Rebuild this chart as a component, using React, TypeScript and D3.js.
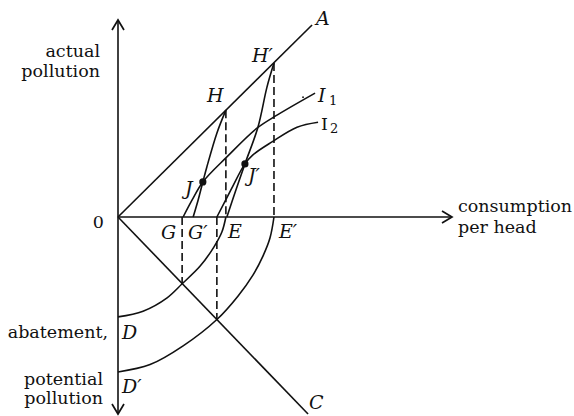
import React from "react";
import * as d3 from "d3";

// values in diagram units (consumption per head on x, pollution on y)
const lineA: [number, number][] = [[0, 0], [5.81, 5.75]];
const lineC: [number, number][] = [[0, 0], [5.69, -5.9]];

const curveHG: [number, number][] = [[3.23, 3.2], [2.96, 2.51], [2.66, 1.5], [2.54, 1.05], [2.4, 0.51], [2.25, 0]];
const curveHG2: [number, number][] = [[4.67, 4.61], [4.46, 3.89], [4.19, 2.69], [3.8, 1.59], [3.53, 0.81], [3.26, 0]];
const curveI1: [number, number][] = [[5.9, 3.71], [4.76, 3.05], [4.16, 2.66], [3.26, 1.8], [2.54, 1.05], [2.22, 0.51], [1.95, 0]];
const curveI2: [number, number][] = [[5.99, 2.84], [5.36, 2.69], [4.61, 2.25], [4.04, 1.86], [3.8, 1.59], [3.38, 0.81], [2.96, 0]];
const arcDE: [number, number][] = [[0, -2.99], [0.75, -2.82], [1.47, -2.42], [1.92, -2.0], [2.46, -1.47], [2.87, -0.9], [3.11, -0.45], [3.23, 0]];
const arcDE2: [number, number][] = [[0, -4.64], [0.96, -4.42], [1.95, -3.86], [2.96, -3.07], [3.59, -2.37], [4.04, -1.74], [4.34, -1.17], [4.55, -0.63], [4.67, 0]];

// dashed drop lines [x, yFrom, yTo]
const dropLines: [number, number, number][] = [
  [3.23, 3.2, 0],
  [4.67, 4.61, 0],
  [1.92, 0, -2.0],
  [2.96, 0, -3.07],
];
const dots: [number, number][] = [[2.54, 1.05], [3.8, 1.59]];

const W = 574;
const H = 416;

export default function App() {
  const x = d3.scaleLinear().domain([0, 10]).range([118, 452]);
  const y = d3.scaleLinear().domain([-5.9, 5.9]).range([414, 20]);
  const smooth = d3
    .line<[number, number]>()
    .x((d) => x(d[0]))
    .y((d) => y(d[1]))
    .curve(d3.curveCatmullRom.alpha(0.5));
  const straight = d3
    .line<[number, number]>()
    .x((d) => x(d[0]))
    .y((d) => y(d[1]));

  const x0 = x(0);
  const y0 = y(0);
  const yTop = y(5.9);
  const yBot = y(-5.9);
  const xEnd = x(10);
  const a = 6;
  const arrows = [
    `M${x0 - a},${yTop + 10}L${x0},${yTop}L${x0 + a},${yTop + 10}`,
    `M${x0 - a},${yBot - 10}L${x0},${yBot}L${x0 + a},${yBot - 10}`,
    `M${xEnd - 10},${y0 - a}L${xEnd},${y0}L${xEnd - 10},${y0 + a}`,
  ];

  const ink = "#111";
  const serif = "'DejaVu Serif', serif";
  const body = { fontFamily: serif, fontSize: 17.5, fill: ink };
  const ital = { fontFamily: serif, fontSize: 19, fontStyle: "italic", fill: ink };

  return (
    <svg width={W} height={H} style={{ position: "absolute", left: 0, top: 0, background: "#fff" }}>
      <g fill="none" stroke={ink} strokeWidth={1.6}>
        <line x1={x0} y1={yTop} x2={x0} y2={yBot} />
        <line x1={x0} y1={y0} x2={xEnd} y2={y0} />
        {arrows.map((d, i) => (
          <path key={i} d={d} strokeWidth={1.7} />
        ))}
        <path d={straight(lineA) || ""} />
        <path d={straight(lineC) || ""} />
        {[curveHG, curveHG2, curveI1, curveI2, arcDE, arcDE2].map((c, i) => (
          <path key={i} d={smooth(c) || ""} />
        ))}
        {dropLines.map(([dx, ya, yb], i) => (
          <line key={i} x1={x(dx)} y1={y(ya)} x2={x(dx)} y2={y(yb)} strokeDasharray="8,4" />
        ))}
      </g>
      {dots.map(([dx, dy], i) => (
        <circle key={i} cx={x(dx)} cy={y(dy)} r={3.6} fill={ink} />
      ))}
      <circle cx={x(5.54)} cy={y(3.59)} r={0.9} fill={ink} />

      <text x={100} y={57} textAnchor="end" style={body}>actual</text>
      <text x={100} y={77} textAnchor="end" style={body}>pollution</text>
      <text x={104} y={228} textAnchor="end" style={body}>0</text>
      <text x={458} y={212} style={body}>consumption</text>
      <text x={458} y={233} style={body}>per head</text>
      <text x={108} y={338} textAnchor="end" style={body}>abatement,</text>
      <text x={103} y={385} textAnchor="end" style={body}>potential</text>
      <text x={103} y={404} textAnchor="end" style={body}>pollution</text>

      <text x={122} y={339} style={ital}>D</text>
      <text x={122} y={393} style={ital}>D′</text>
      <text x={309} y={409} style={ital}>C</text>
      <text x={316} y={25} style={ital}>A</text>
      <text x={207} y={102} style={ital}>H</text>
      <text x={252} y={62} style={ital}>H′</text>
      <text x={185} y={195} style={ital}>J</text>
      <text x={248} y={182} style={ital}>J′</text>
      <text x={161} y={239} style={ital}>G</text>
      <text x={188} y={239} style={ital}>G′</text>
      <text x={228} y={238} style={ital}>E</text>
      <text x={279} y={238} style={ital}>E′</text>
      <text x={318} y={102} style={ital}>I</text>
      <text x={329} y={105} style={{ ...body, fontSize: 13 }}>1</text>
      <text x={321} y={130} style={body}>I</text>
      <text x={330} y={133} style={{ ...body, fontSize: 13 }}>2</text>
    </svg>
  );
}
